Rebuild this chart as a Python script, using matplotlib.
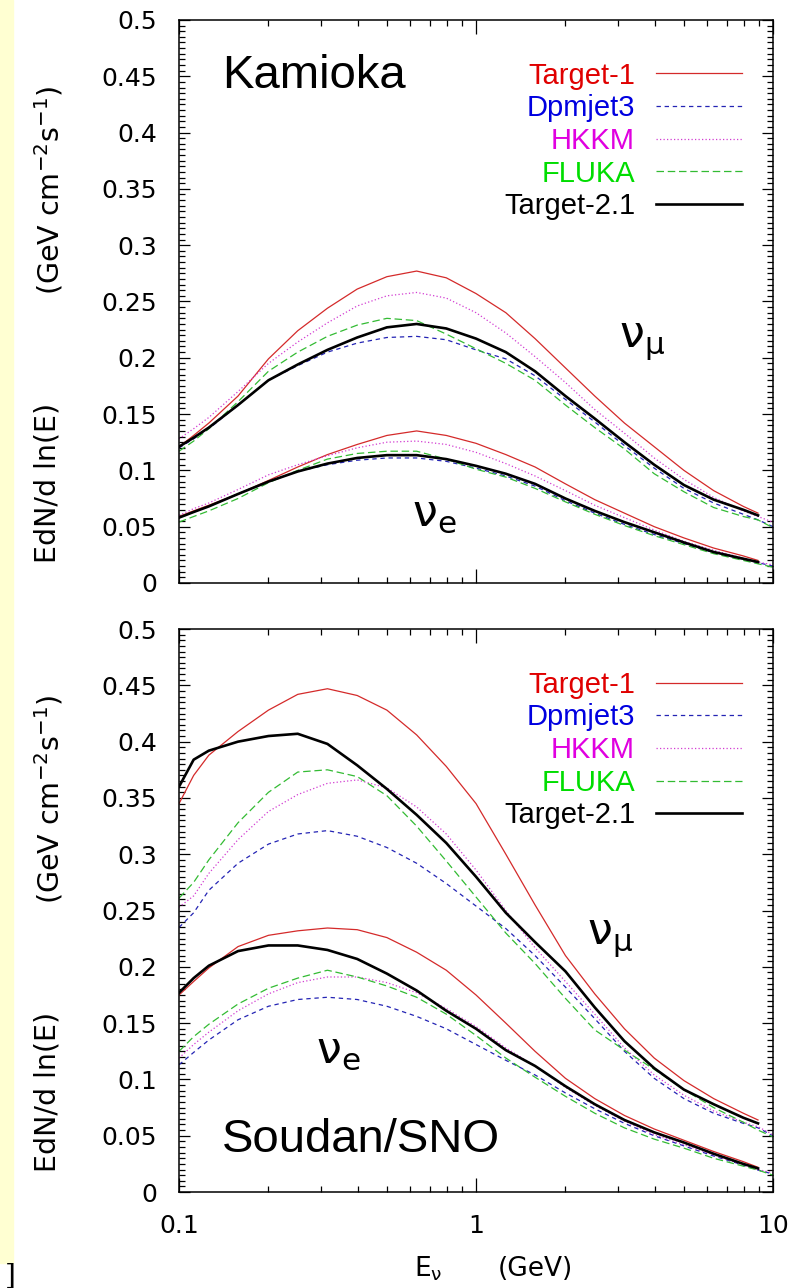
import numpy as np
import matplotlib
matplotlib.use("Agg")
import matplotlib.pyplot as plt
from matplotlib.patches import Rectangle
from matplotlib.ticker import MultipleLocator, FuncFormatter, FixedLocator

nan = np.nan

# neutrino energy grid (GeV)
E = [0.1, 0.112, 0.126, 0.158, 0.2, 0.251, 0.316, 0.398, 0.501, 0.631, 0.794,
     1.0, 1.26, 1.58, 2.0, 2.51, 3.16, 3.98, 5.01, 6.31, 7.94, 8.9, 10.0]

models = ["Target-1", "Dpmjet3", "HKKM", "FLUKA", "Target-2.1"]

# --- Kamioka, nu_mu ---
kam_mu_t1 = [0.121, 0.131, 0.142, 0.166, 0.199, 0.224, 0.244, 0.261, 0.272, 0.277, 0.271,
             0.257, 0.240, 0.217, 0.191, 0.166, 0.142, 0.121, 0.100, 0.082, 0.068, 0.062, nan]
kam_mu_dpm = [0.120, 0.128, 0.137, 0.158, 0.180, 0.193, 0.205, 0.213, 0.218, 0.219, 0.216,
              0.207, 0.199, 0.184, 0.163, 0.143, 0.122, 0.102, 0.084, 0.071, 0.061, 0.056, 0.050]
kam_mu_hkkm = [0.128, 0.137, 0.147, 0.170, 0.195, 0.214, 0.231, 0.246, 0.255, 0.258, 0.253,
               0.240, 0.222, 0.201, 0.178, 0.154, 0.133, 0.111, 0.092, 0.076, 0.064, 0.059, 0.054]
kam_mu_fluka = [0.117, 0.126, 0.137, 0.161, 0.188, 0.205, 0.219, 0.229, 0.235, 0.233, 0.221,
                0.208, 0.195, 0.180, 0.158, 0.138, 0.119, 0.097, 0.081, 0.067, 0.059, 0.056, 0.049]
kam_mu_t21 = [0.121, 0.129, 0.138, 0.158, 0.180, 0.194, 0.207, 0.218, 0.227, 0.230, 0.226,
              0.217, 0.205, 0.188, 0.166, 0.146, 0.125, 0.105, 0.087, 0.074, 0.065, 0.060, nan]

# --- Kamioka, nu_e ---
kam_e_t1 = [0.059, 0.064, 0.069, 0.079, 0.091, 0.103, 0.114, 0.123, 0.131, 0.135, 0.131,
            0.124, 0.114, 0.103, 0.088, 0.074, 0.062, 0.050, 0.040, 0.031, 0.024, 0.020, nan]
kam_e_dpm = [0.058, 0.063, 0.068, 0.079, 0.090, 0.099, 0.105, 0.109, 0.111, 0.111, 0.108,
             0.102, 0.095, 0.086, 0.073, 0.062, 0.052, 0.043, 0.035, 0.027, 0.021, 0.018, 0.015]
kam_e_hkkm = [0.060, 0.066, 0.071, 0.083, 0.096, 0.105, 0.113, 0.120, 0.125, 0.126, 0.123,
              0.116, 0.106, 0.095, 0.082, 0.069, 0.058, 0.047, 0.037, 0.029, 0.022, 0.0186, 0.016]
kam_e_fluka = [0.054, 0.059, 0.064, 0.075, 0.089, 0.100, 0.110, 0.115, 0.117, 0.117, 0.110,
               0.101, 0.094, 0.084, 0.072, 0.061, 0.051, 0.042, 0.034, 0.026, 0.020, 0.017, 0.014]
kam_e_t21 = [0.058, 0.063, 0.068, 0.079, 0.090, 0.099, 0.106, 0.111, 0.1135, 0.1135, 0.110,
             0.104, 0.097, 0.088, 0.075, 0.064, 0.054, 0.045, 0.036, 0.0275, 0.0215, 0.0186, nan]

# --- Soudan/SNO, nu_mu ---
sno_mu_t1 = [0.345, 0.370, 0.388, 0.409, 0.428, 0.442, 0.447, 0.441, 0.428, 0.406, 0.378,
             0.345, 0.300, 0.255, 0.210, 0.176, 0.145, 0.119, 0.099, 0.083, 0.070, 0.064, nan]
sno_mu_dpm = [0.235, 0.248, 0.268, 0.292, 0.309, 0.318, 0.321, 0.316, 0.306, 0.292, 0.274,
              0.254, 0.234, 0.210, 0.182, 0.154, 0.125, 0.101, 0.083, 0.070, 0.061, 0.057, 0.050]
sno_mu_hkkm = [0.253, 0.263, 0.283, 0.313, 0.338, 0.353, 0.363, 0.366, 0.359, 0.342, 0.318,
               0.286, 0.250, 0.217, 0.187, 0.158, 0.128, 0.104, 0.086, 0.072, 0.062, 0.058, 0.051]
sno_mu_fluka = [0.261, 0.275, 0.295, 0.328, 0.355, 0.373, 0.375, 0.369, 0.352, 0.325, 0.294,
                0.262, 0.230, 0.203, 0.172, 0.144, 0.126, 0.109, 0.091, 0.075, 0.062, 0.055, 0.049]
sno_mu_t21 = [0.360, 0.384, 0.392, 0.400, 0.405, 0.407, 0.398, 0.379, 0.358, 0.335, 0.310,
              0.280, 0.248, 0.222, 0.196, 0.164, 0.134, 0.110, 0.091, 0.078, 0.066, 0.061, nan]

# --- Soudan/SNO, nu_e ---
sno_e_t1 = [0.175, 0.187, 0.199, 0.218, 0.228, 0.232, 0.2345, 0.233, 0.226, 0.213, 0.197,
            0.175, 0.150, 0.125, 0.101, 0.083, 0.068, 0.056, 0.046, 0.036, 0.027, 0.022, nan]
sno_e_dpm = [0.113, 0.124, 0.135, 0.153, 0.165, 0.171, 0.173, 0.171, 0.165, 0.156, 0.145,
             0.131, 0.117, 0.104, 0.088, 0.074, 0.061, 0.050, 0.041, 0.032, 0.024, 0.0195, 0.016]
sno_e_hkkm = [0.119, 0.131, 0.142, 0.161, 0.176, 0.186, 0.191, 0.191, 0.186, 0.177, 0.163,
              0.147, 0.128, 0.112, 0.093, 0.077, 0.063, 0.051, 0.042, 0.033, 0.024, 0.020, 0.017]
sno_e_fluka = [0.125, 0.138, 0.149, 0.167, 0.181, 0.190, 0.197, 0.191, 0.183, 0.173, 0.158,
               0.139, 0.119, 0.102, 0.085, 0.070, 0.057, 0.047, 0.039, 0.030, 0.023, 0.0195, 0.015]
sno_e_t21 = [0.177, 0.190, 0.201, 0.214, 0.219, 0.219, 0.215, 0.207, 0.194, 0.179, 0.161,
             0.145, 0.126, 0.112, 0.094, 0.078, 0.064, 0.053, 0.044, 0.034, 0.025, 0.021, nan]

styles = {
    "Target-1": dict(color="#d42a2a", lw=0.9, ls="-"),
    "Dpmjet3": dict(color="#2424b4", lw=0.9, ls=(0, (3.5, 3))),
    "HKKM": dict(color="#d23cd2", lw=0.9, ls=(0, (1, 1.8))),
    "FLUKA": dict(color="#33bb33", lw=0.9, ls=(0, (6, 3))),
    "Target-2.1": dict(color="black", lw=1.9, ls="-"),
}
label_colors = ["#e00000", "#0000e0", "#e000e0", "#00dd00", "black"]


def draw_panel(ax, mu_curves, e_curves, site, site_y, mu_pos, e_pos, xlabels):
    for name, mu, nue in zip(models, mu_curves, e_curves):
        ax.plot(E, mu, label=name, **styles[name])
        ax.plot(E, nue, **styles[name])

    ax.set_xscale("log")
    ax.set_xlim(0.1, 10)
    ax.set_ylim(0, 0.5)
    ax.yaxis.set_major_locator(MultipleLocator(0.05))
    ax.yaxis.set_minor_locator(MultipleLocator(0.005))
    ax.yaxis.set_major_formatter(FuncFormatter(lambda v, p: f"{v:g}"))
    ax.xaxis.set_major_locator(FixedLocator([0.1, 1, 10]))
    ax.xaxis.set_minor_locator(FixedLocator([k * d for d in (0.1, 1) for k in range(2, 10)]))
    ax.xaxis.set_major_formatter(FuncFormatter(lambda v, p: f"{v:g}"))
    ax.tick_params(which="both", direction="in", top=True, right=True, width=0.9)
    ax.tick_params(which="major", length=8, labelsize=18)
    ax.tick_params(which="minor", length=4)
    ax.tick_params(axis="y", which="major", pad=16)
    ax.tick_params(axis="x", which="major", length=10, pad=16)
    if not xlabels:
        ax.tick_params(axis="x", labelbottom=False)
    for sp in ax.spines.values():
        sp.set_linewidth(1.1)

    ax.legend(loc="upper right", bbox_to_anchor=(0.948, 0.926), markerfirst=False,
              frameon=False, handlelength=2.95, handletextpad=0.72, labelspacing=0.16,
              borderpad=0, borderaxespad=0, labelcolor=label_colors,
              prop={"family": "Liberation Sans", "size": 21})

    ax.text(0.072, site_y, site, transform=ax.transAxes, fontsize=34,
            family="Liberation Sans", va="center", ha="left")
    ax.text(mu_pos[0], mu_pos[1], "ν$_\\mathrm{μ}$", transform=ax.transAxes,
            fontsize=32, ha="center", va="center")
    ax.text(e_pos[0], e_pos[1], "ν$_\\mathrm{e}$", transform=ax.transAxes,
            fontsize=32, ha="center", va="center")

    ax.text(-0.222, 0.178, "EdN/d ln(E)", transform=ax.transAxes, rotation=90,
            fontsize=20.5, ha="center", va="center")
    ax.text(-0.218, 0.697, r"(GeV cm$^{-2}$s$^{-1}$)", transform=ax.transAxes,
            rotation=90, fontsize=20.5, ha="center", va="center")


plt.rcParams["mathtext.fontset"] = "dejavusans"

fig = plt.figure(figsize=(8.01, 12.88), dpi=100)
fig.add_artist(Rectangle((0, 0.0194), 13 / 801, 0.9806, transform=fig.transFigure,
                         color="#ffffd2", zorder=0))
fig.text(10 / 801, 1 - 1276 / 1288, "]", fontsize=20, family="DejaVu Serif",
         ha="center", va="center")

ax1 = fig.add_axes([0.2235, 0.5474, 0.7416, 0.4371])
ax2 = fig.add_axes([0.2235, 0.0745, 0.7416, 0.4371])

draw_panel(ax1, [kam_mu_t1, kam_mu_dpm, kam_mu_hkkm, kam_mu_fluka, kam_mu_t21],
           [kam_e_t1, kam_e_dpm, kam_e_hkkm, kam_e_fluka, kam_e_t21],
           "Kamioka", 0.9, (0.78, 0.43), (0.43, 0.124), False)
draw_panel(ax2, [sno_mu_t1, sno_mu_dpm, sno_mu_hkkm, sno_mu_fluka, sno_mu_t21],
           [sno_e_t1, sno_e_dpm, sno_e_hkkm, sno_e_fluka, sno_e_t21],
           "Soudan/SNO", 0.092, (0.726, 0.453), (0.268, 0.252), True)

ax2.text(0.42, -0.136, "E$_\\mathrm{ν}$", transform=ax2.transAxes, fontsize=19,
         ha="center", va="center")
ax2.text(0.6, -0.136, "(GeV)", transform=ax2.transAxes, fontsize=19,
         ha="center", va="center")

fig.savefig("out.png", dpi=100)
